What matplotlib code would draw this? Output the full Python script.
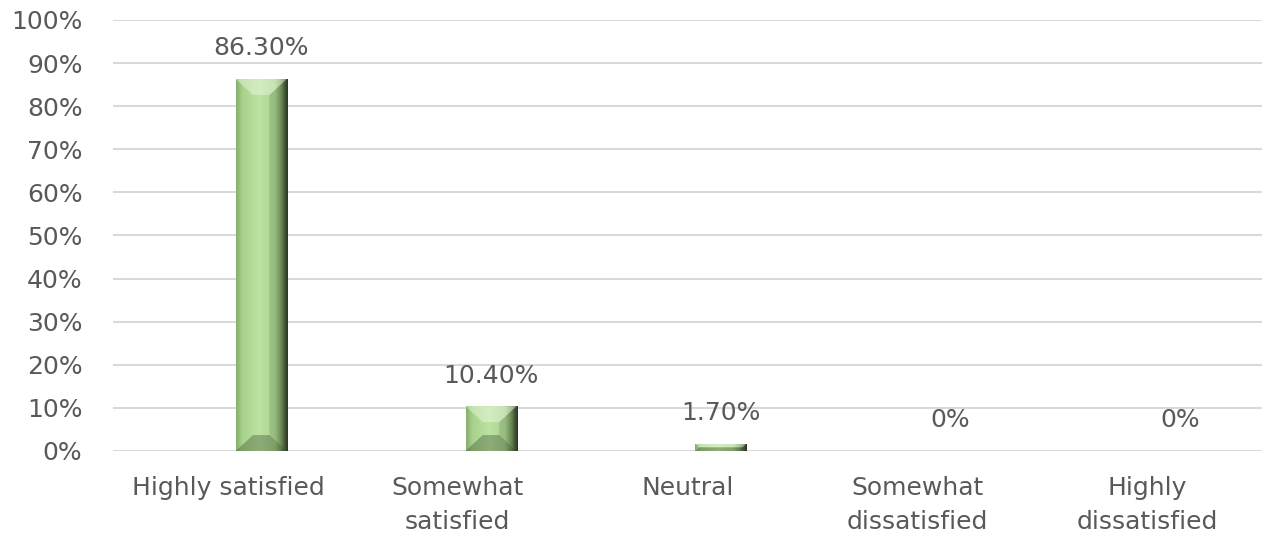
import numpy as np
import matplotlib as mpl
import matplotlib.pyplot as plt
from matplotlib.patches import Polygon, Rectangle
from matplotlib.colors import LinearSegmentedColormap

mpl.use('Agg')

categories = ["Highly satisfied", "Somewhat\nsatisfied", "Neutral",
              "Somewhat\ndissatisfied", "Highly\ndissatisfied"]
values = [86.3, 10.4, 1.7, 0, 0]
value_labels = ["86.30%", "10.40%", "1.70%", "0%", "0%"]
yticks = list(range(0, 101, 10))

plt.rcParams['font.family'] = ['DejaVu Sans']
text_col = "#595959"
fs = 18

fig = plt.figure(figsize=(12.62, 5.4), dpi=100)
ax = fig.add_axes([113 / 1262, 1 - 451 / 540, 1 - 113 / 1262, (451 - 20) / 540])
ax.set_xlim(-0.5, len(categories) - 0.5)
ax.set_ylim(0, 100)

for t in yticks:
    ax.axhline(t, color="#d9d9d9", lw=1.45, zorder=0)

# face gradient of the bars (left -> right)
face = LinearSegmentedColormap.from_list("face", [
    (0.0, "#86ad6c"), (0.12, "#a8d18c"), (0.45, "#bde3a3"),
    (0.75, "#a9d08e"), (0.86, "#7c9c64"), (0.94, "#4b5e3c"), (1.0, "#2a3323")])
grad = np.linspace(0, 1, 256).reshape(1, -1)

offset = 0.145
width = 0.222
bev_x = 0.075
bev_y = 3.7

for i, v in enumerate(values):
    if v > 0:
        x0 = i + offset - width / 2
        x1 = i + offset + width / 2
        im = ax.imshow(grad, cmap=face, aspect="auto", extent=(x0, x1, 0, v),
                       zorder=2, interpolation="bilinear")
        im.set_clip_path(Rectangle((x0, 0), width, v, transform=ax.transData))
        by = min(bev_y, v / 2)
        bx = bev_x * by / bev_y
        # top bevel
        ax.add_patch(Polygon([(x0, v), (x1, v), (x1 - bx, v - by), (x0 + bx, v - by)],
                             closed=True, fc="#eefae4", alpha=0.45, lw=0, zorder=3))
        # bottom bevel
        ax.add_patch(Polygon([(x0, 0), (x1, 0), (x1 - bx, by), (x0 + bx, by)],
                             closed=True, fc="#1f2e14", alpha=0.3, lw=0, zorder=3))
        # right bevel
        ax.add_patch(Polygon([(x1, 0), (x1 - bx, by), (x1 - bx, v - by), (x1, v)],
                             closed=True, fc="#1f2e14", alpha=0.12, lw=0, zorder=3))
    ax.annotate(value_labels[i], (i + offset, v), xytext=(0, 22),
                textcoords="offset points", ha="center", va="center",
                fontsize=fs, color=text_col)

ax.set_xticks(range(len(categories)))
ax.set_xticklabels(categories, fontsize=fs, color=text_col, linespacing=1.55)
ax.set_yticks(yticks)
ax.set_yticklabels([f"{t}%" for t in yticks], fontsize=fs, color=text_col)
ax.tick_params(axis="both", length=0)
ax.tick_params(axis="x", pad=18)
ax.tick_params(axis="y", pad=22)
for s in ax.spines.values():
    s.set_visible(False)

fig.savefig("out.png", dpi=100)
